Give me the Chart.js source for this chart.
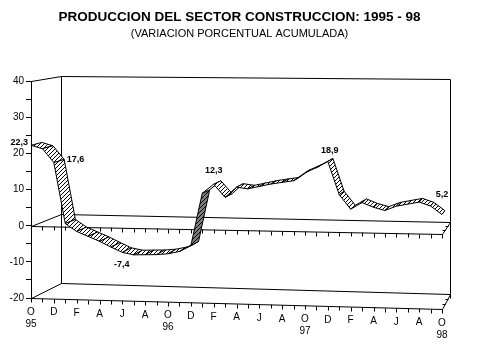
<!DOCTYPE html>
<html>
<head>
<meta charset="utf-8">
<script src="https://cdn.jsdelivr.net/npm/chart.js@4.4.0/dist/chart.umd.min.js"></script>
<style>
  html, body { margin: 0; padding: 0; background: #fff; }
</style>
</head>
<body>
<canvas id="chart" width="479" height="359"></canvas>
<script>
// Months, October 1995 to October 1998
const categories = [
  'O-95', 'N-95', 'D-95',
  'E-96', 'F-96', 'M-96', 'A-96', 'M-96', 'J-96', 'J-96', 'A-96', 'S-96', 'O-96', 'N-96', 'D-96',
  'E-97', 'F-97', 'M-97', 'A-97', 'M-97', 'J-97', 'J-97', 'A-97', 'S-97', 'O-97', 'N-97', 'D-97',
  'E-98', 'F-98', 'M-98', 'A-98', 'M-98', 'J-98', 'J-98', 'A-98', 'S-98', 'O-98'
];

// Accumulated percent change
const values = [
  22.3, 21.4, 17.6,
  0.8, -1.3, -2.6, -3.9, -5.4, -6.8, -7.4, -7.3, -7.2, -6.9, -6.2, -4.6,
  9.8, 12.3, 8.8, 11.6, 11.2, 11.9, 12.6, 13.1, 13.6, 15.8, 17.2, 18.9,
  10.0, 6.2, 8.0, 6.8, 6.0, 7.2, 7.8, 8.4, 7.4, 5.2
];

// Month letters shown under the floor (every second month) and year marks (every October)
const monthTicks = ['O', 'D', 'F', 'A', 'J', 'A', 'O', 'D', 'F', 'A', 'J', 'A', 'O', 'D', 'F', 'A', 'J', 'A', 'O'];
const yearTicks = ['95', '96', '97', '98'];

// Points that carry a value label, with the label offset from the point
const valueLabels = [
  { index: 0, dx: -3, dy: -3, align: 'right' },
  { index: 2, dx: 13, dy: -3, align: 'left' },
  { index: 9, dx: -12, dy: 10, align: 'center' },
  { index: 16, dx: 0, dy: -14, align: 'center' },
  { index: 26, dx: 2, dy: -11, align: 'center' },
  { index: 36, dx: 0, dy: -20, align: 'center' }
];

const FONT = '"Liberation Sans", Arial, sans-serif';

// 3D look: depth offset of the back wall and slant of the horizontal edges
const DEPTH_DX_LEFT = 30;
const DEPTH_DX_RIGHT = 8;
const DEPTH_DY_TOP = -5;
const DEPTH_DY_BOTTOM = -15;
const SLANT_TOP = 0.006;
const SLANT_BOTTOM = 0.027;
const RIBBON_DEPTH = 0.36;

function project(area, px, py, t) {
  const fx = (px - area.left) / (area.right - area.left);
  const fy = (py - area.top) / (area.bottom - area.top);
  const slant = SLANT_TOP + fy * (SLANT_BOTTOM - SLANT_TOP);
  const dx = DEPTH_DX_LEFT + fx * (DEPTH_DX_RIGHT - DEPTH_DX_LEFT);
  const dy = DEPTH_DY_TOP + fy * (DEPTH_DY_BOTTOM - DEPTH_DY_TOP);
  return { x: px + t * dx, y: py + slant * (px - area.left) + t * dy };
}

function line(ctx, a, b) {
  ctx.beginPath();
  ctx.moveTo(Math.round(a.x) + 0.5, Math.round(a.y) + 0.5);
  ctx.lineTo(Math.round(b.x) + 0.5, Math.round(b.y) + 0.5);
  ctx.stroke();
}

function makeHatch(ctx, bg) {
  const c = document.createElement('canvas');
  c.width = 4;
  c.height = 4;
  const g = c.getContext('2d');
  g.fillStyle = bg;
  g.fillRect(0, 0, 4, 4);
  g.fillStyle = '#000';
  for (let i = 0; i < 4; i++) g.fillRect(i, 3 - i, 1, 1);
  return ctx.createPattern(c, 'repeat');
}

const box3d = {
  id: 'box3d',
  // walls, zero plane and floor
  beforeDatasetsDraw(chart) {
    const ctx = chart.ctx;
    const area = chart.chartArea;
    const xs = chart.scales.x;
    const ys = chart.scales.y;
    const n = categories.length;
    const L = xs.getPixelForValue(0);
    const R = xs.getPixelForValue(n - 1);
    const yTop = ys.getPixelForValue(40);
    const yZero = ys.getPixelForValue(0);
    const yBot = ys.getPixelForValue(-20);
    const P = (px, py, t) => project(area, px, py, t);

    ctx.save();
    ctx.strokeStyle = '#000';
    ctx.lineWidth = 1;

    // back wall
    line(ctx, P(L, yTop, 0), P(L, yTop, 1));
    line(ctx, P(L, yTop, 1), P(R, yTop, 1));
    line(ctx, P(L, yTop, 1), P(L, yBot, 1));
    const br = P(R, yBot, 1);
    line(ctx, P(R, yTop, 1), { x: br.x, y: br.y + 4 });

    // zero plane and floor
    [yZero, yBot].forEach(y => {
      line(ctx, P(L, y, 0), P(R, y, 0));
      line(ctx, P(L, y, 1), P(R, y, 1));
      line(ctx, P(L, y, 0), P(L, y, 1));
      line(ctx, P(R, y, 0), P(R, y, 1));
      for (let i = 0; i < n; i++) {
        const p = P(xs.getPixelForValue(i), y, 0);
        line(ctx, p, { x: p.x, y: p.y + 4 });
      }
      [0.35, 0.7].forEach(t => {
        const p = P(R, y, t);
        line(ctx, p, { x: p.x - 3, y: p.y });
      });
    });

    // month and year labels
    ctx.fillStyle = '#000';
    ctx.textAlign = 'center';
    ctx.textBaseline = 'middle';
    ctx.font = '10px ' + FONT;
    monthTicks.forEach((m, k) => {
      const p = P(xs.getPixelForValue(k * 2), yBot, 0);
      ctx.fillText(m, p.x, p.y + 14);
    });
    yearTicks.forEach((yr, k) => {
      const p = P(xs.getPixelForValue(k * 12), yBot, 0);
      ctx.fillText(yr, p.x, p.y + 26);
    });
    ctx.restore();
  },
  // the ribbon
  afterDatasetsDraw(chart) {
    const ctx = chart.ctx;
    const area = chart.chartArea;
    const pts = chart.getDatasetMeta(0).data;
    const light = makeHatch(ctx, '#fff');
    const dark = makeHatch(ctx, '#808080');

    ctx.save();
    ctx.strokeStyle = '#000';
    ctx.lineWidth = 1;
    ctx.lineJoin = 'round';
    for (let i = 0; i < pts.length - 1; i++) {
      const a = pts[i], b = pts[i + 1];
      const A = project(area, a.x, a.y, 0);
      const B = project(area, b.x, b.y, 0);
      const C = project(area, b.x, b.y, RIBBON_DEPTH);
      const D = project(area, a.x, a.y, RIBBON_DEPTH);
      const underside = (a.y - b.y) > 2.5 * (b.x - a.x);
      ctx.beginPath();
      ctx.moveTo(A.x, A.y);
      ctx.lineTo(B.x, B.y);
      ctx.lineTo(C.x, C.y);
      ctx.lineTo(D.x, D.y);
      ctx.closePath();
      ctx.fillStyle = underside ? dark : light;
      ctx.fill();
      ctx.stroke();
    }

    // value labels
    ctx.fillStyle = '#000';
    ctx.textBaseline = 'middle';
    ctx.font = 'bold 9px ' + FONT;
    valueLabels.forEach(l => {
      const p = pts[l.index];
      const q = project(area, p.x, p.y, 0);
      ctx.textAlign = l.align;
      ctx.fillText(values[l.index].toFixed(1).replace('.', ','), q.x + l.dx, q.y + l.dy);
    });
    ctx.restore();
  }
};

const ctx = document.getElementById('chart').getContext('2d');
new Chart(ctx, {
  type: 'line',
  data: {
    labels: categories,
    datasets: [{
      data: values,
      showLine: false,
      pointRadius: 0,
      pointHoverRadius: 0
    }]
  },
  options: {
    responsive: false,
    animation: false,
    devicePixelRatio: 1,
    events: [],
    layout: { padding: { left: 0, right: 0, top: 0, bottom: 61 } },
    plugins: {
      legend: { display: false },
      tooltip: { enabled: false },
      title: {
        display: true,
        text: 'PRODUCCION DEL SECTOR CONSTRUCCION: 1995 - 98',
        color: '#000',
        font: { family: FONT, size: 13.5, weight: 'bold' },
        padding: { top: 9, bottom: 0 }
      },
      subtitle: {
        display: true,
        text: '(VARIACION PORCENTUAL ACUMULADA)',
        color: '#000',
        font: { family: FONT, size: 11 },
        padding: { top: 2, bottom: 41 }
      }
    },
    scales: {
      x: { display: false },
      y: {
        min: -20,
        max: 40,
        afterFit(scale) { scale.width = 31; },
        ticks: {
          stepSize: 5,
          color: '#000',
          padding: 2,
          font: { family: FONT, size: 10 },
          callback: v => (v % 10 === 0 ? v : '')
        },
        grid: { drawOnChartArea: false, color: '#000', tickLength: 5 },
        border: { color: '#000' }
      },
      // empty right-hand axis that only reserves room for the depth of the box
      room: {
        type: 'linear',
        position: 'right',
        min: -20,
        max: 40,
        afterFit(scale) { scale.width = 37; },
        ticks: { display: false },
        grid: { display: false },
        border: { display: false }
      }
    }
  },
  plugins: [box3d]
});
</script>
</body>
</html>
